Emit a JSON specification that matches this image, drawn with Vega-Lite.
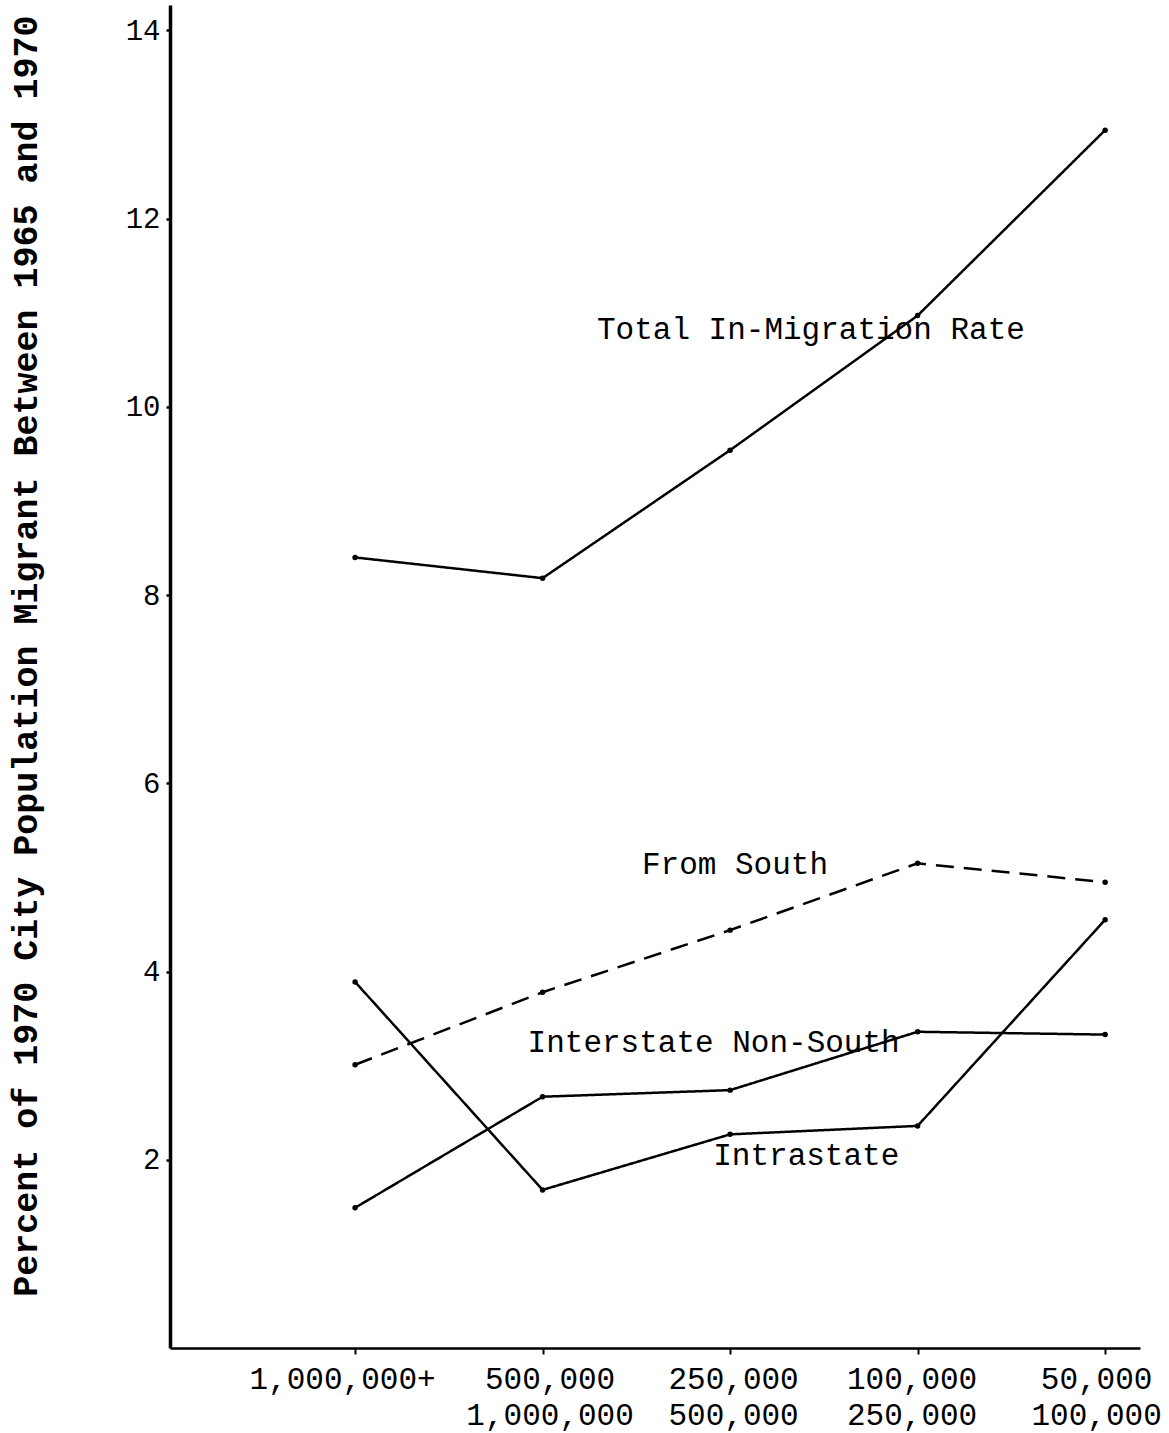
{
  "$schema": "https://vega.github.io/schema/vega-lite/v6.json",
  "autosize": "none",
  "width": 970,
  "height": 1343,
  "padding": {"left": 170, "top": 5, "right": 29, "bottom": 85},
  "background": "white",
  "config": {
    "view": {"stroke": null},
    "font": "Liberation Mono",
    "axis": {"grid": false, "domainColor": "black", "tickColor": "black", "labelColor": "black", "titleColor": "black", "labelFont": "Liberation Mono", "titleFont": "Liberation Mono"}
  },
  "datasets": {
    "series": [
      {"size": 1, "rate": 8.40, "series": "Total In-Migration Rate"},
      {"size": 2, "rate": 8.18, "series": "Total In-Migration Rate"},
      {"size": 3, "rate": 9.54, "series": "Total In-Migration Rate"},
      {"size": 4, "rate": 10.97, "series": "Total In-Migration Rate"},
      {"size": 5, "rate": 12.94, "series": "Total In-Migration Rate"},
      {"size": 1, "rate": 3.01, "series": "From South"},
      {"size": 2, "rate": 3.78, "series": "From South"},
      {"size": 3, "rate": 4.44, "series": "From South"},
      {"size": 4, "rate": 5.15, "series": "From South"},
      {"size": 5, "rate": 4.95, "series": "From South"},
      {"size": 1, "rate": 1.49, "series": "Interstate Non-South"},
      {"size": 2, "rate": 2.67, "series": "Interstate Non-South"},
      {"size": 3, "rate": 2.74, "series": "Interstate Non-South"},
      {"size": 4, "rate": 3.36, "series": "Interstate Non-South"},
      {"size": 5, "rate": 3.33, "series": "Interstate Non-South"},
      {"size": 1, "rate": 3.89, "series": "Intrastate"},
      {"size": 2, "rate": 1.68, "series": "Intrastate"},
      {"size": 3, "rate": 2.27, "series": "Intrastate"},
      {"size": 4, "rate": 2.36, "series": "Intrastate"},
      {"size": 5, "rate": 4.55, "series": "Intrastate"}
    ],
    "labels": [
      {"size": 2.29, "rate": 10.82, "text": "Total In-Migration Rate"},
      {"size": 2.53, "rate": 5.13, "text": "From South"},
      {"size": 1.92, "rate": 3.24, "text": "Interstate Non-South"},
      {"size": 2.91, "rate": 2.04, "text": "Intrastate"}
    ]
  },
  "layer": [
    {
      "data": {"name": "series"},
      "mark": {"type": "line", "color": "black", "strokeWidth": 2.5},
      "encoding": {
        "x": {
          "field": "size", "type": "quantitative",
          "scale": {"domain": [0.013, 5.186], "nice": false, "zero": false},
          "axis": {
            "title": null, "values": [1, 2, 3, 4, 5],
            "domainWidth": 2.5, "tickSize": 6, "tickWidth": 2,
            "labelFontSize": 31, "labelPadding": 10, "labelLineHeight": 36,
            "labelBaseline": "top", "labelLimit": 400,
            "labelOffset": {"condition": [
              {"test": "datum.value == 1", "value": -13},
              {"test": "datum.value == 2", "value": 7},
              {"test": "datum.value == 4", "value": -6},
              {"test": "datum.value == 5", "value": -9}
            ], "value": 3},
            "labelExpr": "datum.value == 1 ? '1,000,000+' : datum.value == 2 ? ['500,000', '1,000,000'] : datum.value == 3 ? ['250,000', '500,000'] : datum.value == 4 ? ['100,000', '250,000'] : ['50,000', '100,000']"
          }
        },
        "y": {
          "field": "rate", "type": "quantitative",
          "scale": {"domain": [0, 14.27], "nice": false},
          "axis": {
            "title": "Percent of 1970 City Population Migrant Between 1965 and 1970",
            "values": [2, 4, 6, 8, 10, 12, 14], "format": "d",
            "domainWidth": 3.5, "tickSize": 4, "tickWidth": 2.5,
            "labelFontSize": 29, "labelPadding": 6,
            "titleFontSize": 35, "titleFontWeight": "bold",
            "titleAngle": -90, "titleX": -145, "titleY": 10,
            "titleAlign": "right", "titleBaseline": "middle"
          }
        },
        "detail": {"field": "series"},
        "strokeDash": {
          "field": "series", "type": "nominal",
          "scale": {"domain": ["Total In-Migration Rate", "From South", "Interstate Non-South", "Intrastate"], "range": [[1, 0], [18, 10], [1, 0], [1, 0]]},
          "legend": null
        }
      }
    },
    {
      "data": {"name": "series"},
      "mark": {"type": "point", "filled": true, "color": "black", "size": 30, "opacity": 1},
      "encoding": {
        "x": {"field": "size", "type": "quantitative"},
        "y": {"field": "rate", "type": "quantitative"}
      }
    },
    {
      "data": {"name": "labels"},
      "mark": {"type": "text", "align": "left", "baseline": "middle", "fontSize": 31, "font": "Liberation Mono", "color": "black"},
      "encoding": {
        "x": {"field": "size", "type": "quantitative"},
        "y": {"field": "rate", "type": "quantitative"},
        "text": {"field": "text"}
      }
    }
  ]
}
